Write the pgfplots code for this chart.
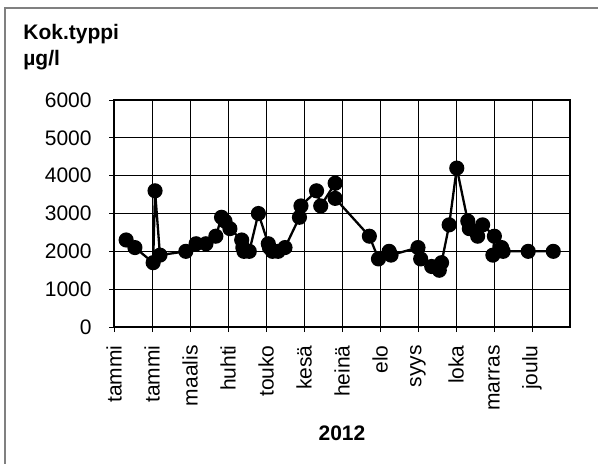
\documentclass[border=0pt]{standalone}
\usepackage{pgfplots}
\pgfplotsset{compat=1.18}
\usepackage{fontspec}
\setmainfont{Liberation Sans}
\begin{document}
\fontsize{10.5}{12.6}\selectfont
\begin{tikzpicture}
\useasboundingbox (0,0) rectangle (299pt,-232pt);
\draw[line width=0.9pt, gray] (2.5pt,-400pt) -- (2.5pt,-4pt) -- (400pt,-4pt);
\node[anchor=base west, font=\fontsize{10.5}{12.6}\selectfont\bfseries, inner sep=0pt] at (11.5pt,-20pt) {Kok.typpi};
\node[anchor=base west, font=\fontsize{10.5}{12.6}\selectfont\bfseries, inner sep=0pt] at (11.5pt,-33pt) {µg/l};
\begin{axis}[
  at={(57pt,-163.5pt)}, anchor=south west,
  scale only axis, width=228pt, height=113.5pt,
  xmin=0, xmax=12, ymin=0, ymax=6000,
  xtick={0,...,11},
  xticklabels={tammi,tammi,maalis,huhti,touko,kesä,heinä,elo,syys,loka,marras,joulu},
  ytick={0,1000,...,6000},
  scaled y ticks=false,
  /pgf/number format/1000 sep={},
  /pgf/number format/assume math mode=true,
  grid=major,
  major grid style={black, line width=0.5pt},
  axis line style={black, line width=0.6pt},
  tick align=outside,
  major tick length=2.5pt,
  tick style={black, line width=0.5pt},
  xtick pos=bottom, ytick pos=left,
  tick label style={font=\fontsize{10.5}{12.6}\selectfont},
  xticklabel style={yshift=-6.5pt, rotate=90, anchor=east, inner sep=0pt},
  yticklabel style={xshift=-8.5pt, anchor=east, inner sep=0pt},
  xlabel={\bfseries 2012},
  xlabel style={at={(0.5,0)}, anchor=base, yshift=-56.5pt, inner sep=0pt, font=\fontsize{10.5}{12.6}\selectfont},
]
\addplot[black, line width=1.15pt, mark=*, mark size=3.2pt, mark options={fill=black}] coordinates {
(0.32,2300) (0.55,2100) (1.03,1700) (1.08,3600) (1.21,1900) (1.89,2000)
(2.16,2200) (2.42,2200) (2.68,2400) (2.83,2900) (2.92,2800) (3.05,2600)
(3.36,2300) (3.39,2100) (3.42,2000) (3.56,2000) (3.80,3000) (4.06,2200)
(4.09,2100) (4.17,2000) (4.32,2000) (4.50,2100) (4.88,2900) (4.92,3200)
(5.33,3600) (5.44,3200) (5.82,3800) (5.82,3400) (6.72,2400) (6.96,1800)
(7.24,2000) (7.29,1900) (8.00,2100) (8.07,1800) (8.36,1600) (8.56,1500)
(8.62,1700) (8.82,2700) (9.02,4200) (9.31,2800) (9.35,2600) (9.57,2400)
(9.70,2700) (10.01,2400) (9.97,1900) (10.20,2100) (10.24,2000) (10.90,2000)
(11.56,2000)
};
\end{axis}
\end{tikzpicture}
\end{document}
